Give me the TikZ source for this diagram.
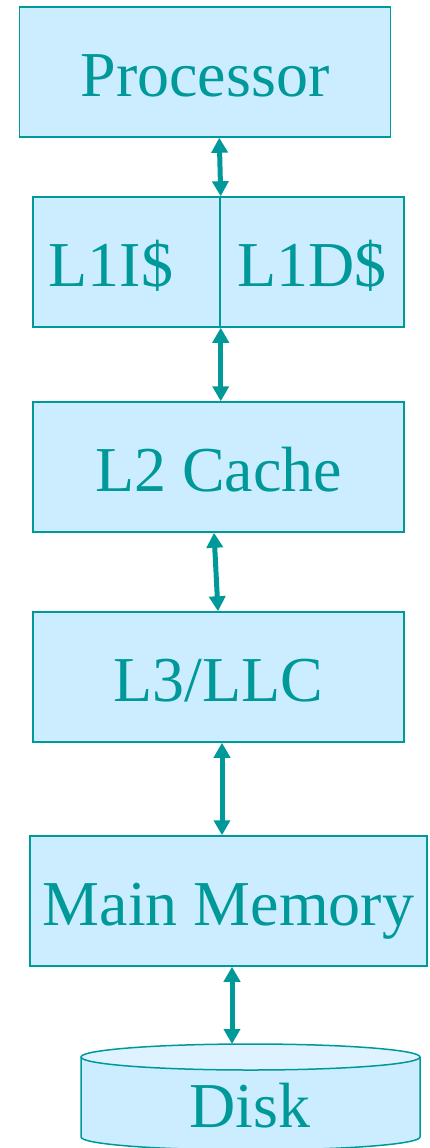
\documentclass[tikz,border=0pt]{standalone}
\usepackage{fontspec}
\setmainfont{Liberation Serif}
\usepackage{tikz}
\usetikzlibrary{positioning,arrows.meta,calc}
\usepackage{xcolor}
\definecolor{hierline}{RGB}{0,153,153}
\definecolor{hierfill}{RGB}{204,236,255}
\definecolor{hiertop}{RGB}{222,243,255}
\tikzset{
  hiertext/.style={text=hierline, font=\fontsize{64}{70}\selectfont,
    text height=48pt, text depth=0pt, inner sep=0pt},
  level/.style={hiertext, draw=hierline, fill=hierfill, line width=1.5pt,
    minimum height=130pt},
  link/.style={<->, draw=hierline, line width=5pt,
    >={Triangle[length=15pt,width=16pt]}},
}

\begin{document}
\begin{tikzpicture}[x=1pt,y=-1pt]
\useasboundingbox (0,0) rectangle (429,1148);

% the levels, top to bottom
\node[level, minimum width=371pt] (proc) at (205,72) {Processor};
\node[level, minimum width=187pt] (l1i) at (126.5,262) {};
\node[level, minimum width=184pt] (l1d) at (312,262) {L1D\$};
\node[hiertext] (l1itext) at (111,262) {L1I\$};
\node[level, minimum width=371pt] (l2) at (218.5,467) {L2 Cache};
\node[level, minimum width=371pt] (l3) at (218.5,677) {L3/LLC};
\node[level, minimum width=397pt] (mm) at (228.5,901) {Main Memory};

% disk drawn as a cylinder
\path[draw=hierline, fill=hierfill, line width=1.5pt]
  (81,1057) -- (81,1137) arc[start angle=180, end angle=360, x radius=169.5, y radius=-13]
  -- (420,1057);
\path[draw=hierline, fill=hiertop, line width=1.5pt]
  (250.5,1057) ellipse[x radius=169.5, y radius=13];
\coordinate (dtop) at (232,1044);
\node[hiertext] (disk) at (250,1103) {Disk};

% links between levels
\draw[link] ([xshift=-1.5]proc.south -| l1i.north east) -- (l1i.north east);
\draw[link] (l1i.south east) -- (l1i.south east |- l2.north);
\draw[link] ([xshift=-4.5]l2.south) -- ([xshift=-0.5]l3.north);
\draw[link] ([xshift=3.5]l3.south) -- ([xshift=3.5]l3.south |- mm.north);
\draw[link] ([xshift=3.5]mm.south) -- (dtop);
\end{tikzpicture}
\end{document}
